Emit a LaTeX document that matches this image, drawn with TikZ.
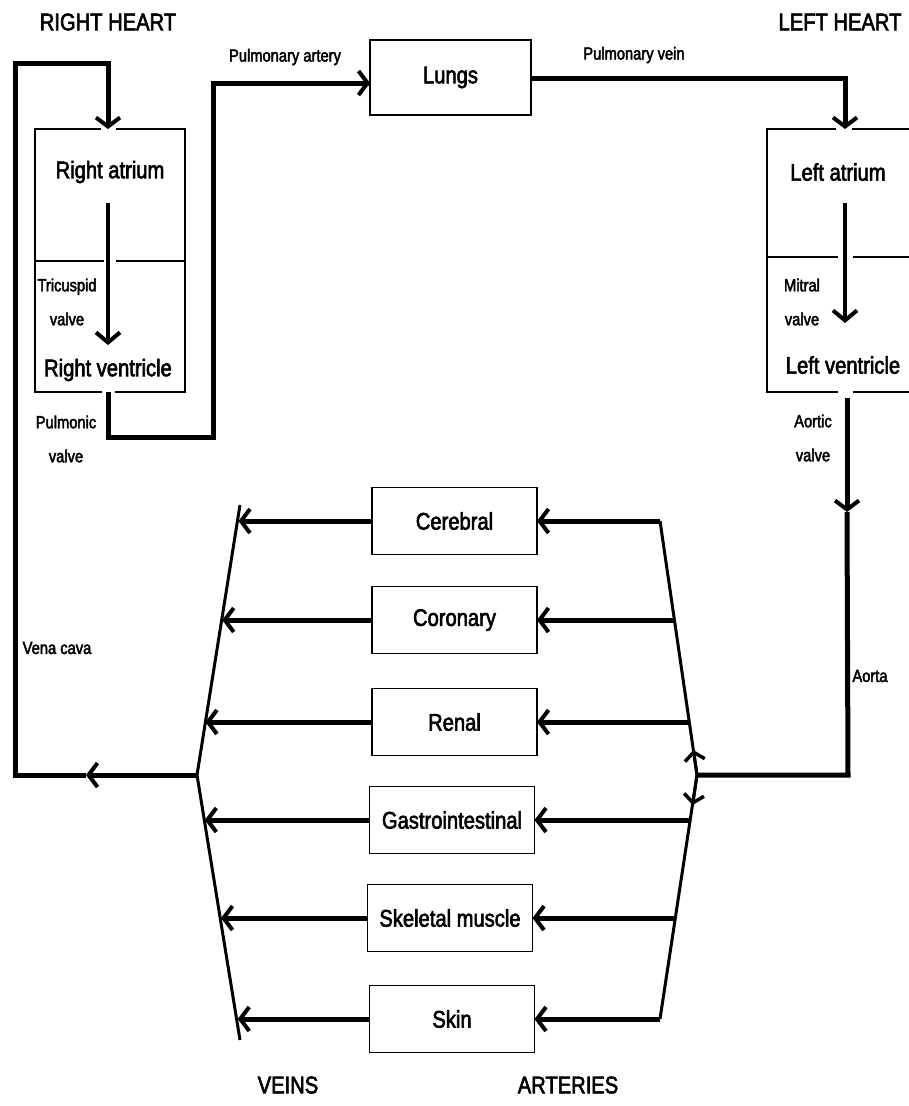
\documentclass[tikz,border=0pt]{standalone}
\usepackage{fontspec}
\setmainfont{Liberation Sans}[FakeStretch=0.84, FakeBold=2.5]
\usetikzlibrary{arrows.meta}

\begin{document}
\begin{tikzpicture}[x=1pt,y=-1pt,every node/.style={inner sep=0pt, outer sep=0pt},
  organ/.style={draw, line width=1.4pt, minimum width=165pt, minimum height=67pt, font=\fontsize{24}{28}\selectfont},
  chamber/.style={draw, line width=1.4pt},
  big/.style={font=\fontsize{24}{28}\selectfont},
  small/.style={font=\fontsize{17.5}{34}\selectfont, align=center},
  pipe/.style={line width=5pt},
  trunk/.style={line width=3pt},
  flow/.style={line width=5pt, -{Straight Barb[length=9pt,width=24pt,line width=4pt]}},
  valve/.style={line width=3.5pt, -{Straight Barb[length=10pt,width=24pt,line width=4pt]}}]
\useasboundingbox (0,0) rectangle (909,1106);
\clip (0,0) rectangle (909,1106);

% headings
\node[big] (rh) at (108,22) {RIGHT HEART};
\node[big] (lh) at (840,22) {LEFT HEART};
\node[big] (veins) at (288,1085) {VEINS};
\node[big] (arteries) at (568,1085) {ARTERIES};

% heart
\node[chamber, minimum width=150pt, minimum height=132pt] (ra) at (110,195) {};
\node[chamber, minimum width=150pt, minimum height=131pt] (rv) at (110,326.5) {};
\node[chamber, minimum width=153pt, minimum height=128pt] (la) at (843.5,193) {};
\node[chamber, minimum width=153pt, minimum height=135pt] (lv) at (843.5,324.5) {};
\fill[white] (101,125) rectangle (116,133);
\fill[white] (104,257) rectangle (116,265);
\fill[white] (102,388) rectangle (115,396);
\fill[white] (836,125) rectangle (852,133);
\fill[white] (838,253) rectangle (853,261);
\fill[white] (838,388) rectangle (853,396);
\node[big] (ratext) at (110,172) {Right atrium};
\node[big] (rvtext) at (108,370) {Right ventricle};
\node[big] (latext) at (838,172) {Left atrium};
\node[big] (lvtext) at (843,365) {Left ventricle};
\node[small] (tricuspid) at (67,302) {Tricuspid\\valve};
\node[small] (pulmonic) at (66,439) {Pulmonic\\valve};
\node[small] (mitral) at (802,302) {Mitral\\valve};
\node[small] (aortic) at (813,438) {Aortic\\valve};
\node[draw, line width=1.4pt, minimum width=161pt, minimum height=75pt, big] (lungs) at (450.5,77.5) {Lungs};
\node[small] (partery) at (285,57) {Pulmonary artery};
\node[small] (pvein) at (634,55) {Pulmonary vein};
\node[small] (venacava) at (57,648) {Vena cava};
\node[small] (aorta) at (870,676) {Aorta};

\coordinate (rain) at (108,63);
\coordinate (raout) at (108,203);
\coordinate (rvin) at (108,345);
\coordinate (rvout) at (108,392);
\coordinate (laout) at (845,203);
\coordinate (lvin) at (845,323);
\coordinate (lvout) at (847,398);
\coordinate (aomark) at (847,512);
\coordinate (vj) at (197,775);
\coordinate (aj) at (697,775);
\coordinate (vcmark) at (86,775);

\draw[valve] (raout) -- (rvin);
\draw[valve] (laout) -- (lvin);
\draw[pipe] (rvout) -- (108,437) -- (213,437) -- (213,83) -- (lungs.west |- 0,83);
\draw[flow] (213,83) -- (lungs.west |- 0,83);
\draw[pipe] (lungs.east |- 0,78) -- (845,78) -- (845,110);
\draw[flow] (845,78) -- (845,129);
\draw[pipe] (vcmark) -- (15,775) -- (15,63) -- (rain) -- (108,110);
\draw[flow] (rain) -- (108,129);
\draw[flow] (vj) -- (vcmark);
\draw[flow] (lvout) -- (aomark);
\draw[pipe] (aomark) -- (848,775) -- (aj);

% organs
\node[organ] (cerebral) at (454.5,521) {Cerebral};
\node[organ] (coronary) at (454.5,620) {Coronary};
\node[organ] (renal) at (454.5,722) {Renal};
\node[organ] (gastro) at (452,820) {Gastrointestinal};
\node[organ] (skeletal) at (450,918) {Skeletal muscle};
\node[organ] (skin) at (452,1019) {Skin};

% veins
\coordinate (vtop) at (240,505);
\coordinate (vbot) at (240,1040);
\coordinate (v1) at (238.5,521);
\coordinate (v2) at (222.2,620);
\coordinate (v3) at (205.4,722);
\coordinate (v4) at (204.8,820);
\coordinate (v5) at (221.0,918);
\coordinate (v6) at (237.7,1019);
\draw[trunk] (vtop) -- (vj) -- (vbot);
\draw[flow] (cerebral) -- (v1);
\draw[flow] (coronary) -- (v2);
\draw[flow] (renal) -- (v3);
\draw[flow] (gastro) -- (v4);
\draw[flow] (skeletal) -- (v5);
\draw[flow] (skin) -- (v6);

% arteries
\coordinate (atop) at (660,521);
\coordinate (abot) at (660,1019);
\coordinate (a2) at (674.6,620);
\coordinate (a3) at (689.5,722);
\coordinate (a4) at (690.0,820);
\coordinate (a5) at (675.5,918);
\draw[trunk] (atop) -- (aj) -- (abot);
\draw[trunk, -{Straight Barb[length=8pt,width=20pt,line width=3.5pt]}] (aj) -- (693.4,750);
\draw[trunk, -{Straight Barb[length=8pt,width=20pt,line width=3.5pt]}] (aj) -- (692.6,805);
\draw[flow] (atop) -- (cerebral);
\draw[flow] (a2) -- (coronary);
\draw[flow] (a3) -- (renal);
\draw[flow] (a4) -- (gastro);
\draw[flow] (a5) -- (skeletal);
\draw[flow] (abot) -- (skin);
\end{tikzpicture}
\end{document}
